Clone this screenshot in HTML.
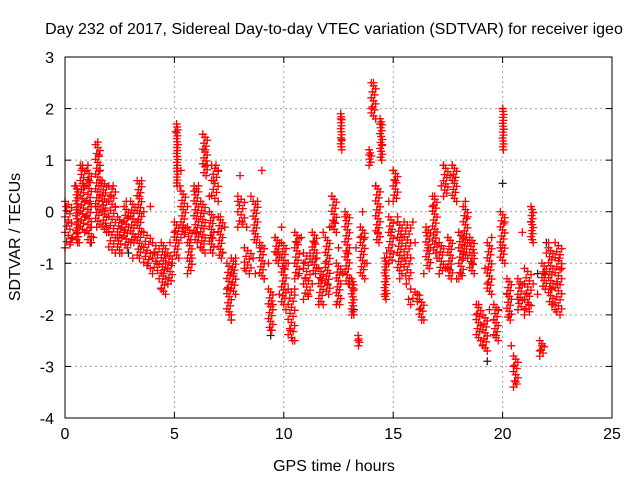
<!DOCTYPE html>
<html><head><meta charset="utf-8"><style>
body{margin:0;background:#fff;}
svg{display:block;font-family:"Liberation Sans",sans-serif;}
</style></head><body>
<svg id="chart" width="640" height="480">
<text x="334" y="34" font-size="16" text-anchor="middle">Day 232 of 2017, Sidereal Day-to-day VTEC variation (SDTVAR) for receiver igeo</text>
<text x="334" y="471" font-size="16" text-anchor="middle">GPS time / hours</text>
<text x="0" y="0" font-size="16" text-anchor="middle" transform="translate(20,237) rotate(-90)">SDTVAR / TECUs</text>
<g id="grid"></g><g id="ticks"></g><g id="marks"></g>
<rect x="65" y="57" width="547" height="361" fill="none" stroke="#000" stroke-width="1"/>
</svg>
<script>
const xTicks=[0,5,10,15,20,25];
const yTicks=[-4,-3,-2,-1,0,1,2,3];
const redT=[0.05,0.15,0.25,0.35,0.45,0.55,0.65,0.75,0.8,0.85,0.9,0.95,1.05,1.1,1.15,1.2,1.3,1.4,1.5,1.55,1.6,1.65,1.7,1.8,1.9,2.0,2.1,2.2,2.3,2.4,2.5,2.6,2.7,2.8,2.9,3.0,3.1,3.2,3.3,3.4,3.5,3.6,3.7,3.8,3.9,4.0,4.1,4.2,4.3,4.4,4.5,4.6,4.7,4.8,4.9,5.0,5.05,5.15,5.25,5.3,5.4,5.5,5.6,5.7,5.8,5.9,6.0,6.1,6.2,6.3,6.4,6.5,6.6,6.7,6.8,6.9,7.0,7.1,7.2,7.3,7.4,7.5,7.6,7.7,7.8,7.9,8.0,8.1,8.2,8.3,8.5,8.6,8.7,8.8,8.9,9.0,9.1,9.3,9.4,9.5,9.6,9.7,9.8,9.9,10.0,10.1,10.2,10.3,10.4,10.5,10.6,10.7,10.8,10.9,11.0,11.1,11.2,11.3,11.4,11.5,11.6,11.7,11.8,11.9,12.0,12.1,12.2,12.3,12.4,12.5,12.6,12.65,12.7,12.8,12.9,13.0,13.1,13.2,13.3,13.4,13.5,13.6,13.7,13.8,13.9,14.0,14.1,14.2,14.3,14.4,14.5,14.6,14.7,14.8,14.9,15.0,15.1,15.2,15.3,15.4,15.5,15.6,15.7,15.8,15.9,16.0,16.1,16.2,16.3,16.4,16.5,16.6,16.8,16.9,17.0,17.1,17.2,17.3,17.4,17.5,17.6,17.7,17.8,17.9,18.0,18.1,18.2,18.3,18.4,18.5,18.6,18.7,18.8,18.9,19.0,19.1,19.2,19.3,19.4,19.5,19.6,19.7,19.8,19.9,20.0,20.05,20.1,20.2,20.3,20.4,20.5,20.6,20.7,20.8,20.9,21.0,21.1,21.2,21.3,21.4,21.6,21.7,21.8,21.9,22.0,22.1,22.2,22.3,22.4,22.5,22.6,22.7];
const redV=[0.1,-0.2,-0.6,-0.5,0.5,-0.4,-0.6,0.8,0.9,0.5,0.2,-0.1,0.9,0.6,0.2,-0.3,-0.5,0.1,1.35,1.1,0.8,0.5,0.2,0.0,-0.3,-0.4,0.3,0.5,0.1,-0.5,-0.8,-0.3,-0.4,0.2,-0.1,-0.6,-0.9,-0.5,-0.2,0.3,0.6,0.0,-0.8,-1.0,0.1,-0.9,-0.8,-1.0,-1.3,-1.5,-1.2,-0.9,-1.1,-0.6,-1.0,-0.4,1.55,1.3,0.5,0.8,-0.3,-0.4,0.1,-0.6,-0.9,0.4,-0.4,0.5,-0.7,1.5,1.2,0.9,0.3,-0.5,0.6,0.9,0.8,-0.1,-0.8,-0.3,-1.5,-2.0,-2.1,-1.2,-0.9,0.2,0.7,-0.2,-1.1,-0.3,0.3,-0.9,-1.2,0.2,-0.7,0.8,-1.3,-1.0,-2.3,-1.8,-0.5,-0.8,-1.6,-0.3,-1.1,-1.9,-1.0,-2.3,-2.5,-1.5,-0.6,-1.2,-0.5,-1.0,-1.3,-1.6,-0.8,-1.4,-0.6,-0.9,-1.8,-1.3,-0.4,-1.0,-1.4,-0.3,0.3,-0.2,-1.8,-0.7,1.8,1.4,-1.2,-0.1,-0.8,-1.4,-2.0,-1.5,-0.7,-2.5,-0.5,0.0,-0.5,-1.0,1.1,2.0,2.5,0.5,-0.4,1.7,1.3,-1.6,-0.8,0.2,-0.4,0.8,0.6,-0.1,-1.3,-0.5,-0.9,-1.4,-1.7,-0.9,-0.2,-0.6,-1.6,-1.9,-2.1,-1.2,-0.4,-0.7,0.1,0.3,-0.9,-1.2,0.5,0.9,-1.1,-0.5,0.7,0.9,0.6,-1.3,-0.4,-1.2,-0.9,0.2,-0.1,-0.6,-1.0,-0.8,-2.0,-1.8,-2.2,-2.6,-1.1,-1.4,-1.9,-0.5,-2.1,-2.4,-1.9,-0.7,2.0,1.6,-0.2,-1.6,-2.0,-2.6,-3.0,-3.3,-1.7,-1.4,-0.4,-1.9,-1.6,-1.8,-0.2,-1.4,-1.6,-2.7,-2.6,-1.2,-0.8,-0.6,-1.5,-1.8,-1.9,-1.4,-0.9,-1.1];
// dense clusters of points: time start, time end, low value, high value
const clT0=[0.0,0.5,0.7,1.0,1.4,1.7,2.0,2.4,2.7,3.0,3.3,3.6,4.0,4.4,4.7,5.0,5.1,5.3,5.6,5.9,6.2,6.3,6.6,6.7,7.0,7.4,7.6,7.9,8.2,8.6,8.9,9.3,9.6,9.9,10.2,10.5,10.9,11.3,11.6,11.9,12.2,12.4,12.6,12.8,13.1,13.4,13.5,13.9,14.0,14.2,14.4,14.6,14.8,15.0,15.2,15.5,15.8,16.2,16.5,16.8,17.1,17.3,17.5,17.7,18.0,18.2,18.5,18.8,19.1,19.3,19.6,19.9,20.0,20.2,20.5,20.7,21.0,21.3,21.7,21.8,22.1,22.4];
const clT1=[0.3,0.6,0.9,1.2,1.6,1.9,2.3,2.6,2.9,3.2,3.5,3.9,4.3,4.6,4.9,5.2,5.15,5.5,5.8,6.1,6.4,6.5,6.8,7.0,7.2,7.6,7.8,8.2,8.5,8.8,9.1,9.5,9.8,10.1,10.5,10.7,11.2,11.5,11.8,12.1,12.4,12.6,12.65,13.0,13.2,13.45,13.7,14.0,14.2,14.4,14.5,14.7,15.0,15.2,15.4,15.8,16.2,16.4,16.7,17.0,17.3,17.5,17.7,17.9,18.2,18.4,18.7,19.0,19.3,19.5,19.8,20.1,20.05,20.4,20.7,20.9,21.3,21.4,21.9,22.0,22.3,22.7];
const clLo=[-0.7,-0.6,-0.4,-0.6,-0.3,-0.4,-0.8,-0.8,-0.7,-0.6,-0.9,-1.1,-1.2,-1.6,-1.4,-0.9,0.5,-0.5,-1.2,-0.6,-0.8,0.7,-0.8,0.2,-0.9,-2.0,-1.6,-0.3,-1.2,-0.6,-1.3,-2.3,-1.0,-1.8,-2.5,-1.3,-1.7,-1.2,-1.8,-1.6,-0.4,-1.8,1.2,-1.4,-2.0,-2.6,-1.3,0.9,1.8,-0.6,1.0,-1.7,-1.0,0.2,-1.2,-1.3,-1.8,-2.1,-1.1,-0.8,-1.2,0.3,-1.3,0.2,-1.3,-0.9,-1.2,-2.5,-2.7,-1.6,-2.5,-1.0,1.2,-2.1,-3.4,-1.9,-2.0,-0.6,-2.8,-1.5,-1.8,-2.0];
const clHi=[0.2,0.5,0.9,0.8,1.3,0.6,0.5,-0.1,0.1,0.2,0.6,-0.4,-0.6,-0.6,-0.8,-0.2,1.7,0.4,-0.3,0.5,0.2,1.5,0.0,0.9,-0.1,-1.0,-0.9,0.3,-0.7,0.2,-0.6,-1.5,-0.5,-0.6,-1.5,-0.4,-0.8,-0.4,-1.1,-0.5,0.3,-1.0,1.9,0.0,-1.3,-2.4,-0.3,1.2,2.5,0.5,1.8,-0.9,-0.1,0.8,-0.2,-0.2,-1.5,-1.7,-0.3,0.3,-0.6,0.9,-0.5,0.9,-0.4,0.1,-0.5,-1.8,-2.0,-0.6,-1.8,0.0,2.0,-1.3,-2.8,-1.3,-1.1,0.1,-2.5,-1.0,-0.7,-0.6];
const blackT=[1.2,2.9,7.6,9.4,13.2,17.5,19.3,20.0,21.6,22.0];
const blackV=[-0.6,-0.8,-2.1,-2.4,-1.9,-1.1,-2.9,0.55,-1.2,-0.6];
const X0=65,X1=612,Y0=418,Y1=57;
const sx=t=>X0+(t-0)/(25-0)*(X1-X0);
const sy=v=>Y0-(v-(-4))/(3-(-4))*(Y0-Y1);
const NS="http://www.w3.org/2000/svg";
const grid=document.getElementById('grid'),ticks=document.getElementById('ticks'),marks=document.getElementById('marks');
function mk(tag,attrs,parent){const e=document.createElementNS(NS,tag);for(const k in attrs)e.setAttribute(k,attrs[k]);parent.appendChild(e);return e;}
xTicks.forEach(t=>{const x=sx(t);
 if(t>0&&t<25){const g=mk('line',{x1:x,x2:x,y1:Y0,y2:Y1,stroke:'#a0a0a0','stroke-dasharray':'2,3'},grid);
 
 }
 const l=mk('text',{x:x,y:Y0+21,'font-size':16,'text-anchor':'middle'},ticks);l.textContent=t;
 
 
 mk('line',{x1:x,x2:x,y1:Y0,y2:Y0-6,stroke:'#000'},ticks);mk('line',{x1:x,x2:x,y1:Y1,y2:Y1+6,stroke:'#000'},ticks);});
yTicks.forEach(v=>{const y=sy(v);
 if(v>-4&&v<3){const g=mk('line',{x1:X0,x2:X1,y1:y,y2:y,stroke:'#a0a0a0','stroke-dasharray':'2,3'},grid);
 
 }
 const l=mk('text',{x:X0-11,y:y+6,'font-size':16,'text-anchor':'end'},ticks);l.textContent=v;
 
 
 mk('line',{x1:X0,x2:X0+6,y1:y,y2:y,stroke:'#000'},ticks);mk('line',{x1:X1,x2:X1-6,y1:y,y2:y,stroke:'#000'},ticks);});
function plusPx(x,y,color,name){
 const p=mk('path',{d:`M${x-4},${y}H${x+4}M${x},${y-4}V${y+4}`,stroke:color,'stroke-width':1.3,fill:'none'},marks);
 
 }
function plus(t,v,color,name){plusPx(sx(t),sy(v),color,name);}
blackT.forEach((t,i)=>plus(t,blackV[i],'#222','black-point'));
clT0.forEach((t0,i)=>{
 const xa=sx(t0),xb=sx(clT1[i]);const ya=sy(clHi[i]),yb=sy(clLo[i]);
 const n=Math.max(1,Math.round((yb-ya)/3));
 for(let k=0;k<=n;k++){const f=k/n;const y=ya+(yb-ya)*f;const x=xa+(xb-xa)*((k*7)%5)/4;
  plusPx(x,y,'#f00','sdtvar-point');}
});
redT.forEach((t,i)=>{plus(t,redV[i],'#f00','sdtvar-point');});
</script>
</body></html>
